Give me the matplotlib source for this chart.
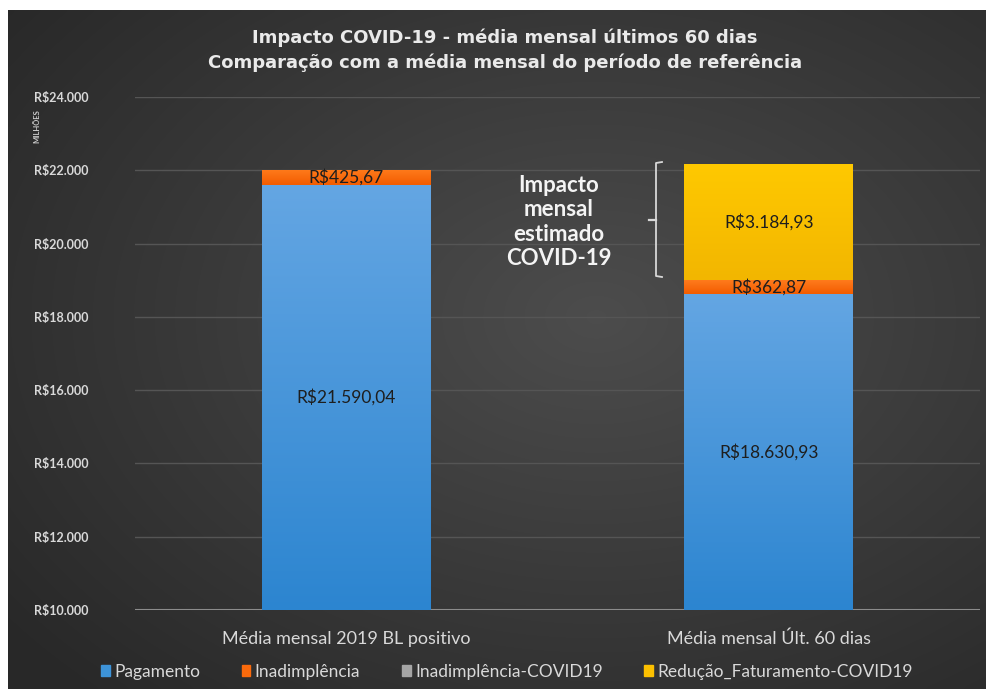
import numpy as np
import matplotlib
matplotlib.use("Agg")
import matplotlib.pyplot as plt
from matplotlib.lines import Line2D
from matplotlib.patches import Rectangle
from matplotlib.colors import LinearSegmentedColormap

plt.rcParams['font.family'] = ['Lato', 'DejaVu Sans']

categories = ["Média mensal 2019 BL positivo", "Média mensal Últ. 60 dias"]
pagamento = [21590.04, 18630.93]
inadimplencia = [425.67, 362.87]
inadimplencia_covid = [0.0, 0.0]
reducao_fat = [0.0, 3184.93]
series_names = ["Pagamento", "Inadimplência", "Inadimplência-COVID19", "Redução_Faturamento-COVID19"]
yticks = [10000, 12000, 14000, 16000, 18000, 20000, 22000, 24000]

W, H = 986, 689
fig = plt.figure(figsize=(W / 100, H / 100), dpi=100)
fig.patch.set_facecolor("white")

# background panel with radial gradient
bg = fig.add_axes([8 / W, 0, 1 - 8 / W, 1 - 10 / H])
bg.set_axis_off()
yy, xx = np.mgrid[0:200, 0:300]
cx, cy = 180, 90
d = np.sqrt(((xx - cx) / 300) ** 2 + ((yy - cy) / 200) ** 2)
d = np.clip(d / 0.75, 0, 1)
v = 0.30 - 0.14 * d
img = np.dstack([v, v, v])
bg.imshow(img, aspect="auto", extent=[0, 1, 0, 1], interpolation="bicubic")
bg.set_xlim(0, 1)
bg.set_ylim(0, 1)

ax = fig.add_axes([135 / W, 1 - 610 / H, (980 - 135) / W, (610 - 97) / H])
ax.set_facecolor("none")
ax.set_xlim(-0.5, 1.5)
ax.set_ylim(10000, 24000)
for s in ax.spines.values():
    s.set_visible(False)
ax.set_yticks(yticks)
ax.set_yticklabels(["R$" + f"{t:,.0f}".replace(",", ".") for t in yticks],
                   color="#d9d9d9", fontsize=9, fontweight="bold")
ax.tick_params(axis="y", length=0, pad=33.5)
ax.set_xticks([0, 1])
ax.set_xticklabels(categories, color="#d9d9d9", fontsize=13)
ax.tick_params(axis="x", length=0, pad=15)
ax.grid(axis="y", color="#555555", linewidth=1)
ax.set_axisbelow(True)
ax.axhline(10000, color="#8c8c8c", linewidth=1.5, zorder=1)

x = np.arange(len(categories))
width = 0.4

grads = {
    "Pagamento": ("#2c85d0", "#64a6e3"),
    "Inadimplência": ("#f25c00", "#ff7b1c"),
    "Inadimplência-COVID19": ("#9a9a9a", "#b0b0b0"),
    "Redução_Faturamento-COVID19": ("#f2b600", "#ffc900"),
}
solid = {
    "Pagamento": "#3d93d8",
    "Inadimplência": "#fa6a0c",
    "Inadimplência-COVID19": "#a5a5a5",
    "Redução_Faturamento-COVID19": "#fcc000",
}

def fmt(v):
    s = f"{v:,.2f}"
    s = s.replace(",", "X").replace(".", ",").replace("X", ".")
    return "R$" + s

bottom = np.zeros(len(categories))
all_series = [pagamento, inadimplencia, inadimplencia_covid, reducao_fat]
for name, vals in zip(series_names, all_series):
    vals = np.array(vals)
    bars = ax.bar(x, vals, width, bottom=bottom, color=solid[name], label=name, zorder=2)
    cmap = LinearSegmentedColormap.from_list(name, list(grads[name]))
    for b, v0, bt in zip(bars, vals, bottom):
        if v0 <= 0:
            continue
        x0 = b.get_x()
        g = np.linspace(0, 1, 256).reshape(-1, 1)
        lo = max(bt, 10000)
        im = ax.imshow(g, cmap=cmap, aspect="auto", origin="lower",
                       extent=[x0, x0 + width, lo, bt + v0], zorder=2.5,
                       interpolation="bicubic")
        im.set_clip_path(b)
        mid = (lo + bt + v0) / 2
        ax.text(x0 + width / 2, mid, fmt(v0), ha="center", va="center",
                fontsize=12.5, color="#1e1e1e", zorder=4)
    bottom = bottom + vals
ax.set_xlim(-0.5, 1.5)
ax.set_ylim(10000, 24000)

# title
title_font = ['DejaVu Sans']
fig.text(505 / W, 1 - 38 / H, "Impacto COVID-19 - média mensal últimos 60 dias",
         ha="center", va="center", fontsize=13, fontweight="bold", color="#eaeaea",
         family=title_font)
fig.text(505 / W, 1 - 63 / H, "Comparação com a média mensal do período de referência",
         ha="center", va="center", fontsize=13, fontweight="bold", color="#eaeaea",
         family=title_font)

# axis unit label
fig.text(37 / W, 1 - 126 / H, "MILHÕES", rotation=90, ha="center", va="center",
         fontsize=5.5, color="#cccccc", fontweight="bold")

# annotation text
fig.text(559 / W, 1 - 222 / H, "Impacto\nmensal\nestimado\nCOVID-19", ha="center", va="center",
         fontsize=16, fontweight="bold", color="#f4f4f4", linespacing=1.2)

# brace
def P(px, py):
    return (px / W, 1 - py / H)
bx = 656
pts = [P(bx + 6, 162), P(bx, 163), P(bx, 276), P(bx + 6, 277)]
fig.add_artist(Line2D([p[0] for p in pts], [p[1] for p in pts],
                      transform=fig.transFigure, color="#d8d8d8", linewidth=1.3))
m = [P(bx - 7, 220), P(bx, 220)]
fig.add_artist(Line2D([p[0] for p in m], [p[1] for p in m],
                      transform=fig.transFigure, color="#d8d8d8", linewidth=1.6))

# legend
handles = [Rectangle((0, 0), 1, 1, color=solid[n]) for n in series_names]
leg = fig.legend(handles, series_names, loc="center", bbox_to_anchor=(507 / W, 1 - 672 / H),
                 ncol=4, frameon=False, fontsize=12.5, handlelength=0.5, handleheight=0.6,
                 handletextpad=0.25, columnspacing=2.4)
for t in leg.get_texts():
    t.set_color("#d9d9d9")

fig.savefig("out.png", dpi=100, facecolor=fig.get_facecolor())
